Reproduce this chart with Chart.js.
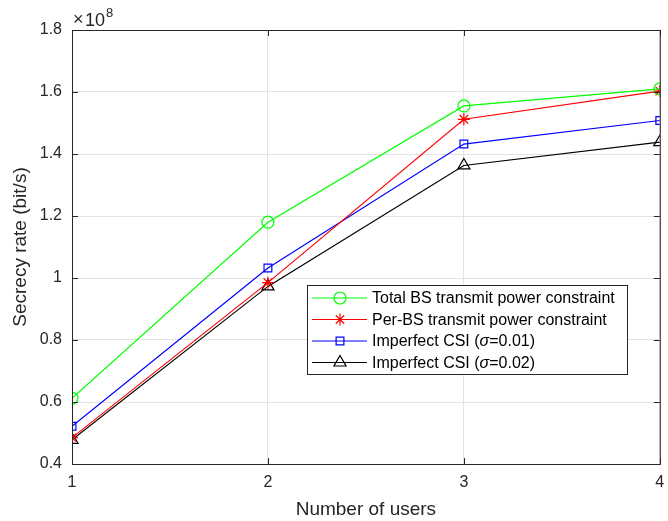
<!DOCTYPE html>
<html>
<head>
<meta charset="utf-8">
<script src="https://cdn.jsdelivr.net/npm/chart.js@4.4.1/dist/chart.umd.min.js"></script>
<style>
  html, body { margin: 0; padding: 0; background: #fff; }
  #wrap { width: 668px; height: 521px; }
</style>
</head>
<body>
<div id="wrap"><canvas id="chart" width="668" height="521"></canvas></div>
<script>
// ─── DATA (secrecy rate in units of 1e8 bit/s) ──────────────────
const users = [1, 2, 3, 4];
const totalBS = [0.612, 1.180, 1.555, 1.610];
const perBS = [0.485, 0.985, 1.512, 1.603];
const csi001 = [0.522, 1.032, 1.432, 1.508];
const csi002 = [0.478, 0.973, 1.363, 1.438];
const yTicks = [0.4, 0.6, 0.8, 1.0, 1.2, 1.4, 1.6, 1.8];
const xTicks = [1, 2, 3, 4];

// legend text: [before sigma, sigma, after]
const seriesNames = [
    ['Total BS transmit power constraint'],
    ['Per-BS transmit power constraint'],
    ['Imperfect CSI (', '\u03C3', '=0.01)'],
    ['Imperfect CSI (', '\u03C3', '=0.02)']
];
const FONT = '"Liberation Sans", Arial, sans-serif';
const AXIS = '#262626';

const toPts = arr => arr.map((v, i) => ({ x: users[i], y: v }));

function makeSet(name, data, color, style, radius) {
    return {
        label: name.join(''),
        parts: name,
        data: toPts(data),
        borderColor: color,
        backgroundColor: 'rgba(0,0,0,0)',
        pointBorderColor: color,
        pointBackgroundColor: 'rgba(0,0,0,0)',
        pointStyle: style,
        pointRadius: radius,
        pointBorderWidth: 1.2,
        borderWidth: 1.2,
        tension: 0
    };
}

// box, inward ticks, exponent and in-axes legend (MATLAB look)
const matlabPlugin = {
    id: 'matlab',
    afterDraw(chart) {
        const { ctx, chartArea: a, scales } = chart;
        ctx.save();
        ctx.strokeStyle = AXIS;
        ctx.lineWidth = 1;
        ctx.strokeRect(a.left + 0.5, a.top + 0.5, a.right - a.left, a.bottom - a.top);
        ctx.beginPath();
        yTicks.forEach(t => {
            const y = Math.round(scales.y.getPixelForValue(t)) + 0.5;
            ctx.moveTo(a.left, y); ctx.lineTo(a.left + 6, y);
            ctx.moveTo(a.right, y); ctx.lineTo(a.right - 6, y);
        });
        xTicks.forEach(t => {
            const x = Math.round(scales.x.getPixelForValue(t)) + 0.5;
            ctx.moveTo(x, a.bottom); ctx.lineTo(x, a.bottom - 6);
            ctx.moveTo(x, a.top); ctx.lineTo(x, a.top + 6);
        });
        ctx.stroke();

        // x10^8
        ctx.fillStyle = AXIS;
        ctx.textBaseline = 'alphabetic';
        ctx.font = '18px ' + FONT;
        ctx.fillText('\u00D7', a.left + 1, a.top - 5);
        ctx.fillText('10', a.left + 13, a.top - 4);
        ctx.font = '13px ' + FONT;
        ctx.fillText('8', a.left + 34, a.top - 13);

        // legend
        const lx = 307, ly = 285, lw = 320, lh = 89;
        ctx.fillStyle = '#fff';
        ctx.fillRect(lx, ly, lw, lh);
        ctx.strokeStyle = AXIS;
        ctx.strokeRect(lx + 0.5, ly + 0.5, lw, lh);
        ctx.textBaseline = 'middle';
        chart.data.datasets.forEach((ds, i) => {
            const y = ly + 13 + i * 21.5;
            ctx.strokeStyle = ds.borderColor;
            ctx.fillStyle = 'rgba(0,0,0,0)';
            ctx.lineWidth = 1.2;
            ctx.beginPath();
            ctx.moveTo(lx + 5, y); ctx.lineTo(lx + 60, y);
            ctx.stroke();
            Chart.helpers.drawPoint(ctx, {
                pointStyle: ds.pointStyle, radius: ds.pointRadius, borderWidth: 1.2
            }, lx + 33, y);
            ctx.fillStyle = '#000';
            let tx = lx + 65;
            ds.parts.forEach((p, k) => {
                ctx.font = (k === 1 ? 'italic ' : '') + '16px ' + FONT;
                ctx.fillText(p, tx, y + 1);
                tx += ctx.measureText(p).width;
            });
        });
        ctx.restore();
    }
};

new Chart(document.getElementById('chart'), {
    type: 'line',
    data: {
        datasets: [
            makeSet(seriesNames[0], totalBS, '#00ff00', 'circle', 6),
            makeSet(seriesNames[1], perBS, '#ff0000', 'star', 6),
            makeSet(seriesNames[2], csi001, '#0000ff', 'rect', 5.5),
            makeSet(seriesNames[3], csi002, '#000000', 'triangle', 7)
        ]
    },
    options: {
        responsive: false,
        animation: false,
        layout: { padding: { top: 30, right: 4, left: 0, bottom: 0 } },
        plugins: { legend: { display: false }, tooltip: { enabled: false } },
        scales: {
            x: {
                type: 'linear',
                min: 1, max: 4,
                afterBuildTicks: s => { s.ticks = xTicks.map(v => ({ value: v })); },
                afterFit: s => { s.height = 57; s.paddingLeft = 0; s.paddingRight = 0; },
                grid: { color: '#e3e3e3', drawTicks: false },
                border: { display: false },
                ticks: { color: AXIS, font: { family: FONT, size: 16 }, padding: 9 },
                title: { display: true, text: 'Number of users', color: AXIS,
                         font: { family: FONT, size: 19 }, padding: { top: 0, bottom: 0 } }
            },
            y: {
                min: 0.4, max: 1.8,
                afterBuildTicks: s => { s.ticks = yTicks.map(v => ({ value: v })); },
                afterFit: s => { s.width = 72; s.paddingTop = 0; s.paddingBottom = 0; },
                grid: { color: '#e3e3e3', drawTicks: false },
                border: { display: false },
                ticks: { color: AXIS, font: { family: FONT, size: 16 }, padding: 10,
                         callback: v => String(Number(v.toFixed(1))) },
                title: { display: true, text: 'Secrecy rate (bit/s)', color: AXIS,
                         font: { family: FONT, size: 19 }, padding: { top: 9, bottom: 0 } }
            }
        }
    },
    plugins: [matlabPlugin]
});
</script>
</body>
</html>
